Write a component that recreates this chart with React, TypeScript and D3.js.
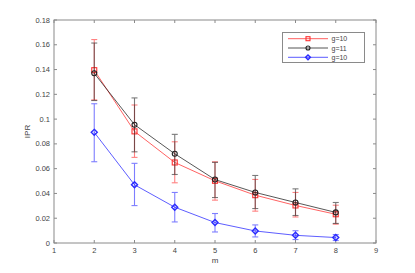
import React from 'react';
import * as d3 from 'd3';

const mValues = [2, 3, 4, 5, 6, 7, 8];
const xTicks = [1, 2, 3, 4, 5, 6, 7, 8, 9];
const yTicks = [0, 0.02, 0.04, 0.06, 0.08, 0.1, 0.12, 0.14, 0.16, 0.18];

// red squares, g=10
const redMean = [0.1395, 0.0901, 0.065, 0.0502, 0.0386, 0.0303, 0.0232];
const redHigh = [0.1642, 0.1114, 0.0817, 0.0655, 0.0513, 0.0408, 0.0305];
const redLow = [0.1155, 0.0691, 0.0486, 0.0346, 0.0257, 0.021, 0.0152];

// black circles, g=11
const blackMean = [0.137, 0.0955, 0.072, 0.0512, 0.0408, 0.0327, 0.0247];
const blackHigh = [0.1614, 0.1171, 0.0877, 0.0651, 0.0545, 0.0437, 0.0327];
const blackLow = [0.115, 0.0736, 0.0553, 0.0367, 0.0278, 0.0222, 0.0158];

// blue diamonds, g=10
const blueMean = [0.0893, 0.047, 0.0289, 0.0165, 0.0097, 0.0062, 0.0044];
const blueHigh = [0.1124, 0.0643, 0.0408, 0.0238, 0.0146, 0.0099, 0.0068];
const blueLow = [0.0656, 0.0302, 0.017, 0.0089, 0.0049, 0.0028, 0.002];

const legendLabels = ['g=10', 'g=11', 'g=10'];

const margin = { top: 20, right: 39, bottom: 30, left: 54 };
const W = 415, H = 273;
const font = 'Liberation Sans, Arial, sans-serif';

export default function App() {
  const x = d3.scaleLinear().domain([1, 9]).range([margin.left, W - margin.right]);
  const y = d3.scaleLinear().domain([0, 0.18]).range([H - margin.bottom, margin.top]);

  const series = [
    { mean: redMean, hi: redHigh, lo: redLow, color: '#ff3030', marker: 'square' },
    { mean: blackMean, hi: blackHigh, lo: blackLow, color: '#222222', marker: 'circle' },
    { mean: blueMean, hi: blueHigh, lo: blueLow, color: '#2a2aff', marker: 'diamond' },
  ];

  const line = d3.line<number>()
    .x((_, i) => x(mValues[i]))
    .y(d => y(d));

  const drawMarker = (kind: string, cx: number, cy: number, color: string, key: string, k = 1) => {
    if (kind === 'square') {
      const h = 2.5 * k;
      return <rect key={key} x={cx - h} y={cy - h} width={2 * h} height={2 * h} fill="none" stroke={color} strokeWidth={1.1} />;
    }
    if (kind === 'circle') {
      return <circle key={key} cx={cx} cy={cy} r={2.5 * k} fill="none" stroke={color} strokeWidth={1.1} />;
    }
    const s = 3 * k;
    return <path key={key} d={`M${cx},${cy - s}L${cx + s},${cy}L${cx},${cy + s}L${cx - s},${cy}Z`} fill="none" stroke={color} strokeWidth={1.4} />;
  };

  const x0 = x(1), x1 = x(9), y0 = y(0), y1 = y(0.18);
  const axisColor = '#8a8a8a';
  const textColor = '#444';

  return (
    <svg width={W} height={H} style={{ position: 'absolute', left: 0, top: 0 }}>
      <rect width={W} height={H} fill="#fff" />
      {/* box and ticks */}
      <rect x={x0} y={y1} width={x1 - x0} height={y0 - y1} fill="none" stroke={axisColor} strokeWidth={1} />
      {xTicks.map(t => (
        <g key={'xt' + t}>
          <line x1={x(t)} x2={x(t)} y1={y0} y2={y0 - 3} stroke={axisColor} />
          <line x1={x(t)} x2={x(t)} y1={y1} y2={y1 + 3} stroke={axisColor} />
          <text x={x(t)} y={y0 + 10} fontSize={7.5} fontFamily={font} fill={textColor} textAnchor="middle">{t}</text>
        </g>
      ))}
      {yTicks.map(t => (
        <g key={'yt' + t}>
          <line x1={x0} x2={x0 + 3} y1={y(t)} y2={y(t)} stroke={axisColor} />
          <line x1={x1} x2={x1 - 3} y1={y(t)} y2={y(t)} stroke={axisColor} />
          <text x={x0 - 4} y={y(t) + 2.5} fontSize={7.5} fontFamily={font} fill={textColor} textAnchor="end">{d3.format('~g')(t)}</text>
        </g>
      ))}
      <text x={(x0 + x1) / 2} y={y0 + 20} fontSize={8} fontFamily={font} fill={textColor} textAnchor="middle">m</text>
      <text transform={`translate(${x0 - 24},${(y0 + y1) / 2}) rotate(-90)`} fontSize={8} fontFamily={font} fill={textColor} textAnchor="middle">IPR</text>

      {/* series */}
      {series.map((s, si) => (
        <g key={'s' + si}>
          <path d={line(s.mean) || ''} fill="none" stroke={s.color} strokeWidth={0.9} opacity={0.85} />
          {s.mean.map((_, i) => {
            const cx = x(mValues[i]);
            return (
              <g key={'e' + i} stroke={s.color} strokeWidth={1.1} opacity={0.6}>
                <line x1={cx} x2={cx} y1={y(s.hi[i])} y2={y(s.lo[i])} />
                <line x1={cx - 3} x2={cx + 3} y1={y(s.hi[i])} y2={y(s.hi[i])} />
                <line x1={cx - 3} x2={cx + 3} y1={y(s.lo[i])} y2={y(s.lo[i])} />
              </g>
            );
          })}
          {s.mean.map((v, i) => drawMarker(s.marker, x(mValues[i]), y(v), s.color, 'm' + i))}
        </g>
      ))}

      {/* legend */}
      <rect x={282.5} y={32.5} width={82} height={30} fill="#fff" stroke={axisColor} strokeWidth={1} />
      {series.map((s, i) => {
        const ly = 38.7 + i * 9.3;
        return (
          <g key={'lg' + i}>
            <line x1={288} x2={328} y1={ly} y2={ly} stroke={s.color} strokeWidth={0.9} opacity={0.85} />
            {drawMarker(s.marker, 308, ly, s.color, 'lm' + i, 0.8)}
            <text x={331.5} y={ly + 2.6} fontSize={7} fontFamily={font} fill={textColor}>{legendLabels[i]}</text>
          </g>
        );
      })}
    </svg>
  );
}
